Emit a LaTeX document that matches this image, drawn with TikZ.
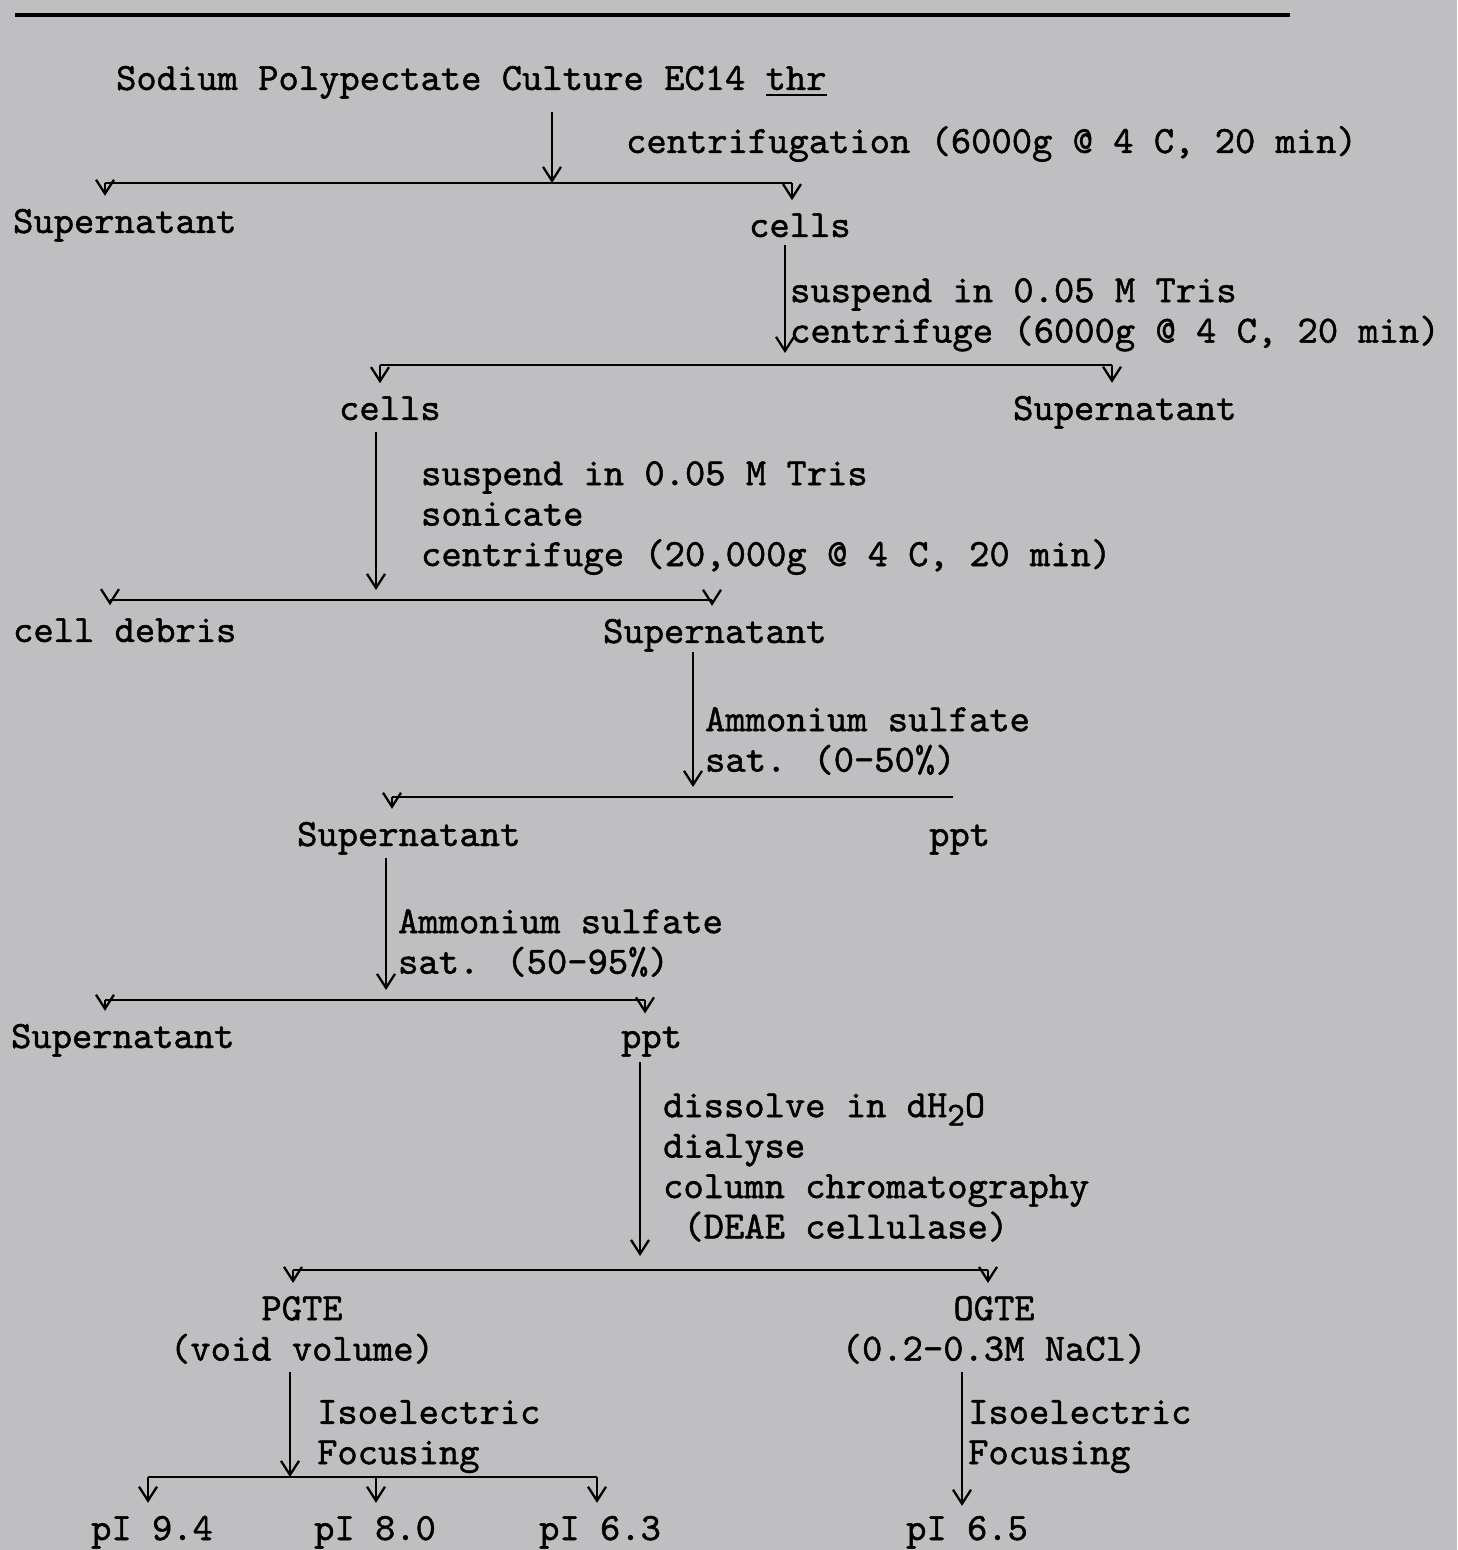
\documentclass[tikz,border=0pt]{standalone}
\usepackage{fontspec}
\setmainfont{lmmono10-regular}[Extension=.otf, FakeBold=1.2]
\usetikzlibrary{arrows.meta}

\definecolor{paper}{RGB}{191,191,193}

\tikzset{
    txt/.style={inner sep=0pt, anchor=base west},
    lbl/.style={inner sep=0pt, anchor=north west, align=left},
    arr/.style={-{Straight Barb[length=1.4mm,width=1.8mm]}},
    drop/.style={arr, shorten >=1.2mm},
}

\begin{document}
\begin{tikzpicture}[x=0.1mm, y=-0.1mm, line width=0.65pt,
    every node/.style={font=\fontsize{11}{11.5}\selectfont}]
    \fill[paper] (0,0) rectangle (1457,1550);
    \draw[line width=1pt] (15,15) -- (1290,15);

    % culture -> supernatant / cells
    \node[txt] (culture) at (115,90) {Sodium Polypectate Culture EC14 \underline{thr}};
    \node[txt] (spin1) at (625,153) {centrifugation (6000g @ 4 C, 20 min)};
    \node[txt] (sup1) at (12,233) {Supernatant};
    \node[txt] (cells1) at (748,237) {cells};
    \coordinate (t1) at (552,112);
    \coordinate (a1) at (552,183);
    \coordinate (l1) at (105,183);
    \coordinate (r1) at (792,183);
    \draw[arr] (t1) -- (a1);
    \draw (l1) -- (r1);
    \draw[drop] (l1) -- (l1 |- sup1.north);
    \draw[drop] (r1) -- (r1 |- cells1.north);

    % wash
    \node[lbl] (wash) at (789,277) {suspend in 0.05 M Tris\\centrifuge (6000g @ 4 C, 20 min)};
    \node[txt] (cells2) at (338,420) {cells};
    \node[txt] (sup2) at (1012,420) {Supernatant};
    \coordinate (t2) at (785,245);
    \coordinate (a2) at (785,353);
    \coordinate (l2) at (380,365);
    \coordinate (r2) at (1112,365);
    \draw[arr] (t2) -- (a2);
    \draw (l2) -- (r2);
    \draw[drop] (l2) -- (l2 |- cells2.north);
    \draw[drop] (r2) -- (r2 |- sup2.north);

    % sonication
    \node[lbl] (sonic) at (420,460) {suspend in 0.05 M Tris\\sonicate\\centrifuge (20,000g @ 4 C, 20 min)};
    \node[txt] (debris) at (12,642) {cell debris};
    \node[txt] (sup3) at (602,643) {Supernatant};
    \coordinate (t3) at (376,432);
    \coordinate (a3) at (376,590);
    \coordinate (l3) at (110,600);
    \coordinate (r3) at (712,600);
    \draw[arr] (t3) -- (a3);
    \draw (l3) -- (r3);
    \draw[drop] (l3) -- (l3 |- debris.north);
    \draw[drop] (r3) -- (r3 |- sup3.north);

    % ammonium sulfate 0-50%
    \node[lbl] (amsa) at (704,706) {Ammonium sulfate\\sat. (0-50\%)};
    \node[txt] (sup4) at (296,846) {Supernatant};
    \node[txt] (ppt1) at (928,846) {ppt};
    \coordinate (t4) at (693,652);
    \coordinate (a4) at (693,787);
    \coordinate (l4) at (392,797);
    \coordinate (r4) at (953,797);
    \draw[arr] (t4) -- (a4);
    \draw (l4) -- (r4);
    \draw[drop] (l4) -- (l4 |- sup4.north);

    % ammonium sulfate 50-95%
    \node[lbl] (amsb) at (397,908) {Ammonium sulfate\\sat. (50-95\%)};
    \node[txt] (sup5) at (10,1048) {Supernatant};
    \node[txt] (ppt2) at (620,1048) {ppt};
    \coordinate (t5) at (386,858);
    \coordinate (a5) at (386,990);
    \coordinate (l5) at (105,1000);
    \coordinate (r5) at (645,1000);
    \draw[arr] (t5) -- (a5);
    \draw (l5) -- (r5);
    \draw[drop] (l5) -- (l5 |- sup5.north);
    \draw[drop] (r5) -- (r5 |- ppt2.north);

    % column
    \node[lbl] (column) at (662,1092) {dissolve in dH\raisebox{-0.5ex}{\fontsize{9.5}{9.5}\selectfont 2}O\\dialyse\\column chromatography\\\hspace*{0.525em}(DEAE cellulase)};
    \node[inner sep=0pt, anchor=north, align=center] (pgte) at (302,1295) {PGTE\\(void volume)};
    \node[inner sep=0pt, anchor=north, align=center] (ogte) at (994,1295) {OGTE\\(0.2-0.3M NaCl)};
    \coordinate (t6) at (640,1062);
    \coordinate (a6) at (640,1256);
    \coordinate (l6) at (293,1270);
    \coordinate (r6) at (988,1270);
    \draw[arr] (t6) -- (a6);
    \draw (l6) -- (r6);
    \draw[drop] (l6) -- (l6 |- pgte.north);
    \draw[drop] (r6) -- (r6 |- ogte.north);

    % focusing, PGTE
    \node[lbl] (iefa) at (316,1399) {Isoelectric\\Focusing};
    \node[txt] (p94) at (90,1540) {pI 9.4};
    \node[txt] (p80) at (313,1540) {pI 8.0};
    \node[txt] (p63) at (538,1540) {pI 6.3};
    \coordinate (t7) at (290,1372);
    \coordinate (a7) at (290,1477);
    \coordinate (l7) at (148,1477);
    \coordinate (m7) at (376,1477);
    \coordinate (r7) at (597,1477);
    \draw[arr] (t7) -- (a7);
    \draw (l7) -- (r7);
    \draw[drop] (l7) -- (l7 |- p94.north);
    \draw[drop] (m7) -- (m7 |- p80.north);
    \draw[drop] (r7) -- (r7 |- p63.north);

    % focusing, OGTE
    \node[lbl] (iefb) at (967,1399) {Isoelectric\\Focusing};
    \node[txt] (p65) at (905,1540) {pI 6.5};
    \coordinate (t8) at (962,1372);
    \draw[arr, shorten >=0.9mm] (t8) -- (t8 |- p65.north);
\end{tikzpicture}
\end{document}
